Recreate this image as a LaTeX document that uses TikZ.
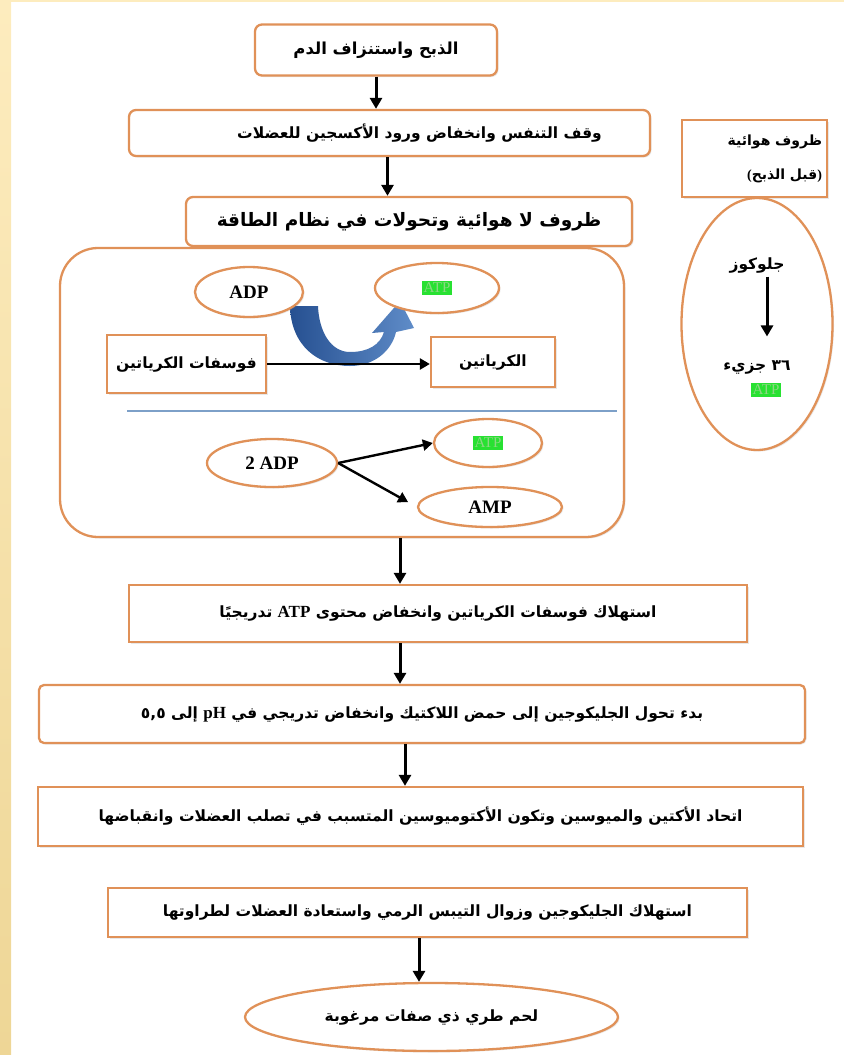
\documentclass[tikz,border=0pt]{standalone}
\usepackage{fontspec}
\setmainfont{Liberation Serif}
\newfontfamily\arabicfont[Script=Arabic]{DejaVu Sans}
\usetikzlibrary{arrows.meta, shapes.geometric, shadows}
\TeXXeTstate=1

\definecolor{boxorange}{RGB}{224,145,88}
\definecolor{sepblue}{RGB}{125,160,200}
\definecolor{atpgreen}{RGB}{40,225,50}
\definecolor{atptext}{RGB}{140,215,130}
\definecolor{creamtop}{RGB}{253,236,190}
\definecolor{creambot}{RGB}{238,214,150}
\definecolor{udark}{RGB}{38,80,145}
\definecolor{ulight}{RGB}{95,140,200}

\newcommand{\artext}[1]{{\arabicfont\bfseries\beginR #1\endR}}
\newcommand{\lat}[1]{\beginL{\rmfamily\bfseries\fontsize{17}{17}\selectfont #1}\endL}
\newcommand{\hlatp}{{\setlength{\fboxsep}{2pt}\colorbox{atpgreen}{\rmfamily\fontsize{15}{15}\selectfont\color{atptext}ATP}}}

\begin{document}
\begin{tikzpicture}[x=1pt, y=-1pt, thick,
    box/.style={draw=boxorange, line width=2.3pt, fill=white, rounded corners=7pt, inner sep=0pt,
        drop shadow={opacity=0.18, shadow xshift=1.5pt, shadow yshift=-1.5pt}},
    flatbox/.style={box, rounded corners=0pt},
    oval/.style={box, ellipse},
    arr/.style={-{Triangle[length=11pt,width=12pt]}, line width=3pt},
    thinarr/.style={-{Triangle[length=10pt,width=11pt]}, line width=2.4pt},
    txt/.style={font=\fontsize{15.5}{18}\selectfont},
    bigtxt/.style={font=\fontsize{18.5}{22}\selectfont},
    latin/.style={font=\rmfamily\bfseries\fontsize{19}{21}\selectfont}]
                \useasboundingbox (0,0) rectangle (844,1055);
                % Page edge:
                \shade[top color=creamtop, bottom color=creambot] (0,0) rectangle (11,1055);
                \fill[creamtop] (0,0) rectangle (844,2);

                % Main chain:
                \node[box, minimum width=242, minimum height=51, font=\fontsize{16.5}{19}\selectfont] (slaughter) at (376,50) {\artext{الذبح واستنزاف الدم}};
                \node[box, minimum width=521, minimum height=46, txt] (breath) at (389.5,133) {\hspace*{60pt}\artext{وقف التنفس وانخفاض ورود الأكسجين للعضلات}};
                \node[box, minimum width=446, minimum height=49, bigtxt] (anaerobic) at (409,221.5) {\artext{ظروف لا هوائية وتحولات في نظام الطاقة}};
                \draw[arr] (slaughter) -- (slaughter |- breath.north);
                \coordinate (a2) at ([xshift=-2pt]breath.south);
                \draw[arr] (a2) -- (a2 |- anaerobic.north);

                % Energy system:
                \node[box, rounded corners=38pt, minimum width=564, minimum height=289] (energy) at (342,392.5) {};
                \shade[left color=udark, right color=ulight]
                    (290,306) .. controls (291,346) and (318,366) .. (350,366)
                    .. controls (375,366) and (392,350) .. (396,332)
                    -- (414,328) -- (400,301) -- (372,333) -- (384,332)
                    .. controls (380,345) and (368,352) .. (350,352)
                    .. controls (331,352) and (319,332) .. (318,306) -- cycle;
                \node[oval, minimum width=108, minimum height=50, latin] (adp) at (249,292) {ADP};
                \node[oval, minimum width=124, minimum height=50] (atp1) at (437,288) {\hlatp};
                \node[flatbox, minimum width=159, minimum height=58, txt] (phos) at (186.5,364) {\artext{فوسفات الكرياتين}};
                \node[flatbox, minimum width=124, minimum height=50, txt] (creat) at (493,362) {\artext{الكرياتين}};
                \draw[thinarr] (phos.east) -- (phos.east -| creat.west);
                \draw[sepblue, line width=1.3pt] (127,411) -- (617,411);
                \node[oval, minimum width=130, minimum height=48, latin] (adp2) at (272,463) {2 ADP};
                \node[oval, minimum width=108, minimum height=48] (atp2) at (488,443) {\hlatp};
                \node[oval, minimum width=144, minimum height=40, latin] (amp) at (490,507) {AMP};
                \draw[thinarr] (adp2.east) -- (atp2.west);
                \draw[thinarr, shorten >=10pt] (adp2.east) -- (amp.west);

                % Aerobic side:
                \node[flatbox, minimum width=145, minimum height=77, align=right, text width=135,
                    font=\fontsize{14}{34}\selectfont] (aerobic) at (754.5,158.5)
                    {\artext{ظروف هوائية}\\{\rmfamily\bfseries (}\artext{قبل الذبح}{\rmfamily\bfseries )}};
                \node[oval, minimum width=151, minimum height=252] (aerobell) at (757,324) {};
                \node[txt] (glucose) at (757,265) {\artext{جلوكوز}};
                \node[txt] (molec) at (757,367) {\artext{٣٦ جزيء}};
                \node[inner sep=0pt] (atp3) at (766,390) {\hlatp};
                \coordinate (a9) at ([xshift=10pt]glucose.south);
                \draw[arr, shorten >=20pt] (a9) -- (a9 |- molec.north);

                % Post-mortem chain:
                \node[flatbox, minimum width=618, minimum height=57, txt] (consume) at (438,613.5)
                    {\artext{استهلاك فوسفات الكرياتين وانخفاض محتوى \lat{ATP} تدريجيًا}};
                \node[box, rounded corners=5pt, minimum width=766, minimum height=58, txt] (glycol) at (422,714)
                    {\artext{بدء تحول الجليكوجين إلى حمض اللاكتيك وانخفاض تدريجي في \lat{pH} إلى ٥,٥}};
                \node[flatbox, minimum width=765, minimum height=59, txt] (rigor) at (420.5,816.5)
                    {\artext{اتحاد الأكتين والميوسين وتكون الأكتوميوسين المتسبب في تصلب العضلات وانقباضها}};
                \node[flatbox, minimum width=639, minimum height=49, txt] (resolve) at (427.5,912.5)
                    {\artext{استهلاك الجليكوجين وزوال التيبس الرمي واستعادة العضلات لطراوتها}};
                \node[oval, minimum width=373, minimum height=68, txt] (meat) at (431.5,1017)
                    {\artext{لحم طري ذي صفات مرغوبة}};

                \coordinate (a4) at ([xshift=58pt]energy.south);
                \draw[arr] (a4) -- (a4 |- consume.north);
                \coordinate (a5) at ([xshift=-38pt]consume.south);
                \draw[arr] (a5) -- (a5 |- glycol.north);
                \coordinate (a6) at ([xshift=-17pt]glycol.south);
                \draw[arr] (a6) -- (a6 |- rigor.north);
                \coordinate (a8) at ([xshift=-8.5pt]resolve.south);
                \draw[arr] (a8) -- (a8 |- meat.north);
            \end{tikzpicture}
\end{document}
